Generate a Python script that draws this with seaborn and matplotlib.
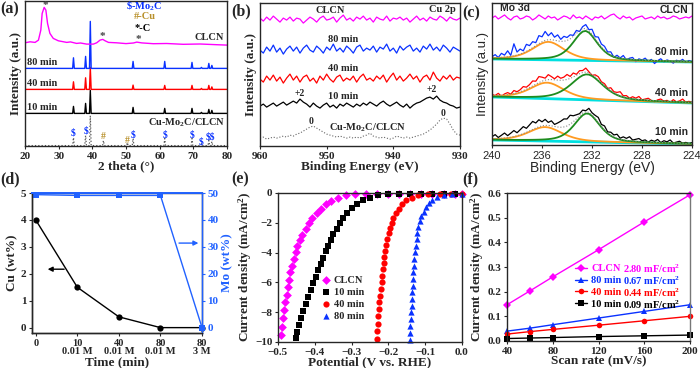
import numpy as np
import matplotlib
matplotlib.use("Agg")
import matplotlib.pyplot as plt
import seaborn as sns

sns.set_style("ticks")
plt.rcParams["font.family"] = ["Liberation Serif", "DejaVu Serif"]
plt.rcParams["font.weight"] = "bold"
plt.rcParams["axes.labelweight"] = "bold"
plt.rcParams["axes.linewidth"] = 1.0
plt.rcParams["mathtext.fontset"] = "custom"
plt.rcParams["mathtext.rm"] = "Liberation Serif:bold"
plt.rcParams["mathtext.default"] = "rm"
plt.rcParams["xtick.direction"] = "out"
plt.rcParams["ytick.direction"] = "out"
plt.rcParams["xtick.major.size"] = 2.5
plt.rcParams["ytick.major.size"] = 2.5
plt.rcParams["xtick.major.pad"] = 1.5
plt.rcParams["ytick.major.pad"] = 1.5

MAG, BLUE, RED, BLK = "#ff00ff", "#0a32ff", "#ff0000", "black"
ORANGE, GREEN, CYAN, CUC, DBLUE = "#ff9b21", "#1e8c1e", "#00e0e0", "#b8902a", "#2162ff"

# ---------------- (a) XRD ----------------
mo2c_pos = [34.4, 38.0, 39.4, 52.1, 61.5, 69.6, 72.4, 74.6, 75.5]
cu_pos = [43.3, 50.4]
h_80 = [10.6, 12, 47, 7, 7, 6, 1, 5, 3]
h_40 = [7.6, 11.6, 22, 4.3, 4, 4, 1, 4, 2.5]
h_10 = [7, 10, 23, 6, 5, 5, 1, 4, 3]
h_cumo = [8, 10, 30, 7, 7, 7, 2, 5, 4]
h_cumo_cu = [5, 3]
base_80, base_40, base_10, base_cumo = 77.7, 56.7, 32.7, 0.5
clcn_x = [20, 21.5, 23, 24, 24.7, 25.1, 25.7, 26.2, 26.7, 27.4, 28.4, 29.9, 31, 32.4, 33.5,
          35.3, 36.5, 38.3, 40.3, 41.3, 42.3, 43.1, 43.8, 44.8, 47.2, 50, 52.2, 53.2,
          54.7, 58.1, 62.1, 67, 72, 76.9, 80]
clcn_y = [103.3, 104.3, 103.7, 106, 116, 132.7, 138.7, 136, 122.7, 112.7, 107.7, 105.3, 104.6, 103.7, 104.2,
          102.7, 103.1, 102, 102, 103.3, 106, 106.7, 105.3, 103.7, 103.3, 102.5, 103.1, 104,
          103.2, 102.4, 102.6, 101.8, 102.1, 101.4, 101]
# peak-marker labels above the Cu-Mo2C/CLCN pattern
mo2c_mark_x = [34.4, 38.0, 52.1, 61.5, 69.6, 72.4, 75.05]
mo2c_mark_y = [13.3, 15, 11, 11, 11, 4.3, 9.5]
mo2c_mark_t = ["$", "$", "$", "$", "$", "$", r"\$\$"]
cu_mark_y = [9.3, 5.3]

# ---------------- (b) Cu 2p ----------------
b_clcn = [128, 125, 129, 126, 130, 127, 124, 128, 126, 129, 125, 128, 127, 123, 126, 129, 127, 124, 128, 130,
          126, 127, 129, 124, 128, 131, 126, 128, 125, 129, 127, 130, 126, 128, 124, 129, 127, 126, 130, 125,
          128, 127, 129, 126, 128, 124, 127, 130, 126, 128, 125, 129, 127, 126, 130, 128, 125, 129, 127, 126, 128]
b_80 = [96, 93, 99, 95, 101, 94, 98, 92, 97, 100, 95, 99, 93, 98, 101, 96, 94, 100, 97, 93,
        99, 96, 102, 95, 98, 94, 100, 97, 93, 99, 101, 95, 98, 96, 100, 94, 99, 97, 102, 95,
        98, 93, 100, 96, 99, 101, 95, 98, 94, 100, 97, 102, 96, 99, 95, 101, 98, 94, 99, 97, 95]
b_40 = [67, 64, 70, 66, 71, 65, 69, 63, 68, 72, 66, 70, 64, 69, 71, 65, 68, 63, 70, 66,
        72, 67, 64, 69, 71, 65, 68, 66, 70, 64, 69, 72, 66, 68, 65, 70, 67, 71, 64, 69,
        73, 66, 70, 65, 68, 72, 67, 70, 64, 69, 71, 66, 74, 68, 65, 70, 67, 71, 66, 69, 68]
b_10 = [40, 42, 39, 41, 43, 40, 42, 44, 41, 43, 45, 43, 47, 44, 42, 39, 43, 40, 38, 41,
        43, 39, 41, 38, 42, 40, 43, 41, 39, 42, 40, 43, 41, 44, 42, 40, 43, 45, 42, 40,
        42, 44, 41, 39, 42, 38, 41, 43, 44, 46, 48, 49, 47, 50, 46, 44, 43, 41, 40, 38, 39]
b_cumo = [8, 9, 7, 8, 9, 8, 9, 10, 9, 11, 10, 12, 13, 15, 17, 19, 20, 18, 16, 14,
          12, 11, 10, 9, 10, 9, 8, 9, 8, 9, 8, 10, 11, 13, 10, 9, 8, 9, 8, 7,
          8, 10, 9, 8, 9, 8, 9, 10, 11, 12, 14, 16, 19, 22, 26, 28, 27, 22, 16, 12, 11]

# ---------------- (c) Mo 3d ----------------
c_clcn = [0, 2, -1, 1, 3, 0, -2, 1, 2, -1, 0, 2, 1, -2, 0, 3, 1, -1, 2, 0, 1, -2, 0, 2, 1, -1, 3, 0, 1, -1,
          2, 0, -2, 1, 0, 2, -1, 1, 3, 4, 1, -1, 2, 0, 1, -2, 0, 1, 2, -1, 0, 1, -1, 2, 0, 1, -1, 0, 2, 1,
          -1, 0, 1, 0, 2]
c_groups = {
    "80 min": dict(color=BLUE, base=(86, 83), orange=(235.5, 18, 3.0), green=(232.55, 29.5, 2.3),
                   noise=[1, 3, 0, 4, 2, 6, 1, 12, 3, 5, 2, 7, 4, 6, 3, 8, 5, 9, 4, 7, 3, 6, 2, 5, 3,
                          4, 1, 3, -1, 2, 4, 1, 5, 2, 6, 3, 4, 1, 3, -1, 2, 0, 3, -1, 1, 2, -2, 1, 0, 2,
                          -1, 1, -3, 0, 2, -1, 1, 0, -2, 1, 0, 2, -1, 1, 0]),
    "40 min": dict(color=RED, base=(48, 42), orange=(235.6, 16, 3.2), green=(232.4, 25.5, 3.0),
                   noise=[1, 0, 2, -1, 1, 2, 0, 3, 1, 2, 4, 2, 3, 5, 3, 6, 4, 2, 5, 3, 1, 4, 2, 3, 5,
                          2, 4, 1, 3, 2, 4, 1, -1, 2, 3, 1, 2, 0, 3, 1, 2, 4, 1, 2, 0, 2, 1, 3, 0, 1,
                          2, 0, -1, 1, 2, 0, 1, -1, 2, 0, 1, 3, 0, 1, 0]),
    "10 min": dict(color=BLK, base=(5, 1), orange=(235.75, 14, 3.2), green=(232.4, 28.5, 2.4),
                   noise=[2, 4, 1, 3, 5, 2, 4, 6, 3, 5, 7, 4, 6, 8, 5, 7, 4, 6, 3, 5, 2, 4, 6, 8, 7,
                          9, 6, 4, 2, 3, 1, 4, 2, 3, 5, 2, 4, 1, 3, 2, 4, 1, 3, 2, 4, 1, 2, 3, 1, 2,
                          0, 2, 1, 3, 0, 2, 1, 3, 0, 1, 2, 0, 1, 0, 1]),
}

# ---------------- (d) composition ----------------
d_labels = ["0", "10\n0.01 M", "40\n0.01 M", "80\n0.01 M", "80\n3 M"]
cu_wt = [4.0, 1.5, 0.4, 0.0, 0.0]
mo_wt = [49.4, 49.1, 49.1, 49.1, 0.0]

# ---------------- (e) LSV ----------------
e_clcn_x = [-0.492, -0.489, -0.486, -0.483, -0.480, -0.475, -0.473, -0.469, -0.466, -0.462, -0.457, -0.452,
            -0.448, -0.441, -0.434, -0.425, -0.416, -0.407, -0.395, -0.384, -0.370, -0.356, -0.338, -0.315,
            -0.290, -0.26, -0.23, -0.20, -0.17, -0.14, -0.11, -0.08, -0.05, -0.02, 0.0]
e_clcn_y = [-9.53, -8.97, -8.40, -7.84, -7.35, -6.85, -6.34, -5.82, -5.33, -4.88, -4.43, -3.98,
            -3.57, -3.19, -2.81, -2.40, -2.02, -1.69, -1.33, -1.06, -0.76, -0.54, -0.31, -0.16,
            -0.10, -0.09, -0.09, -0.09, -0.09, -0.09, -0.09, -0.09, -0.09, -0.09, -0.09]
e_10_x = [-0.450, -0.447, -0.443, -0.437, -0.431, -0.425, -0.419, -0.411, -0.404, -0.397, -0.390, -0.384,
          -0.377, -0.370, -0.364, -0.356, -0.349, -0.340, -0.331, -0.322, -0.311, -0.299, -0.285, -0.270,
          -0.251, -0.229, -0.201, -0.17, -0.14, -0.11, -0.08, -0.05, -0.02]
e_10_y = [-9.71, -9.30, -8.88, -8.36, -7.91, -7.46, -7.01, -6.49, -6.04, -5.62, -5.17, -4.76,
          -4.36, -3.91, -3.53, -3.15, -2.74, -2.40, -2.02, -1.66, -1.33, -1.01, -0.72, -0.49,
          -0.31, -0.16, -0.09, -0.08, -0.08, -0.08, -0.08, -0.08, -0.08]
e_40_x = [-0.231, -0.230, -0.228, -0.227, -0.226, -0.224, -0.222, -0.220, -0.218, -0.217, -0.215, -0.213,
          -0.211, -0.208, -0.206, -0.203, -0.199, -0.196, -0.191, -0.186, -0.179, -0.172, -0.163, -0.151,
          -0.137, -0.119, -0.091, -0.06, -0.03, 0.0]
e_40_y = [-9.82, -9.26, -8.76, -8.25, -7.80, -7.35, -6.90, -6.45, -6.00, -5.55, -5.10, -4.70,
          -4.27, -3.87, -3.46, -3.08, -2.70, -2.34, -2.00, -1.66, -1.35, -1.06, -0.76, -0.49,
          -0.31, -0.16, -0.09, -0.08, -0.08, -0.08]
e_80_x = [-0.142, -0.141, -0.140, -0.139, -0.138, -0.137, -0.136, -0.135, -0.134, -0.133, -0.132, -0.131,
          -0.129, -0.127, -0.125, -0.123, -0.121, -0.118, -0.114, -0.110, -0.104, -0.098, -0.090, -0.080,
          -0.067, -0.050, -0.027, 0.0]
e_80_y = [-9.89, -9.37, -8.92, -8.47, -8.02, -7.57, -7.12, -6.67, -6.22, -5.78, -5.33, -4.88,
          -4.43, -3.98, -3.53, -3.08, -2.67, -2.29, -1.91, -1.57, -1.26, -0.94, -0.67, -0.45,
          -0.27, -0.16, -0.09, -0.09]

# ---------------- (f) Cdl ----------------
scan_rate = [40, 60, 80, 120, 160, 200]
f_clcn = [0.147, 0.203, 0.260, 0.370, 0.483, 0.593]
f_80 = [0.040, 0.052, 0.066, 0.093, 0.120, 0.147]
f_40 = [0.028, 0.038, 0.047, 0.064, 0.082, 0.100]
f_10 = [0.010, 0.012, 0.014, 0.018, 0.021, 0.024]
cdl_text = ["2.80 mF/cm$^2$", "0.67 mF/cm$^2$", "0.44 mF/cm$^2$", "0.09 mF/cm$^2$"]

fig = plt.figure(figsize=(7, 3.68), dpi=100)
ax_a = fig.add_axes([0.0357, 0.603, 0.2886, 0.394])
ax_b = fig.add_axes([0.3714, 0.603, 0.2857, 0.3886])
ax_c = fig.add_axes([0.7029, 0.606, 0.2857, 0.3859])
ax_d = fig.add_axes([0.0457, 0.0951, 0.2429, 0.3804])
ax_e = fig.add_axes([0.397, 0.0707, 0.2629, 0.405])
ax_f = fig.add_axes([0.7243, 0.0734, 0.2614, 0.402])

TK = 8
LB = 9.5


def peak_trace(base, pos, heights, w=0.25):
    xs, ys = [20], [base]
    for p, hh in sorted(zip(pos, heights)):
        xs += [p - w, p, p + w]
        ys += [base, base + hh, base]
    xs.append(80)
    ys.append(base)
    return xs, ys


# (a)
for base, hs, col in [(base_10, h_10, BLK), (base_40, h_40, RED), (base_80, h_80, BLUE)]:
    xs, ys = peak_trace(base, mo2c_pos, hs)
    sns.lineplot(x=xs, y=ys, ax=ax_a, color=col, lw=1, estimator=None, sort=False)
xs, ys = peak_trace(base_cumo, mo2c_pos + cu_pos, h_cumo + h_cumo_cu)
sns.lineplot(x=xs, y=ys, ax=ax_a, color="#555555", lw=0.9, ls=":", estimator=None, sort=False)
sns.lineplot(x=clcn_x, y=clcn_y, ax=ax_a, color=MAG, lw=1, estimator=None, sort=False)
ax_a.set_xlim(20, 80)
ax_a.set_ylim(0, 145)
ax_a.set_yticks([])
ax_a.set_xticks(range(20, 81, 10))
ax_a.tick_params(labelsize=TK)
ax_a.set_xlabel("2 theta (°)", fontsize=LB, labelpad=0)
ax_a.set_ylabel("Intensity (a.u.)", fontsize=LB, labelpad=2)
ax_a.text(50, 139.5, r"\$-Mo$_2$C", color=BLUE, fontsize=7.5, va="center")
ax_a.text(52.2, 129.5, "#-Cu", color=CUC, fontsize=7.5, va="center")
ax_a.text(52.5, 118, "*-C", color=BLK, fontsize=7.5, va="center")
for x, y in [(26, 141), (43.1, 110), (53.6, 106.5)]:
    ax_a.text(x, y, "*", color="#444444", fontsize=8, ha="center", va="center")
ax_a.text(79.2, 104, "CLCN", fontsize=7.5, ha="right", va="bottom")
ax_a.text(20.6, base_80 + 1, "80 min", fontsize=7.5, ha="left", va="bottom")
ax_a.text(20.6, base_40 + 1, "40 min", fontsize=7.5, ha="left", va="bottom")
ax_a.text(20.6, base_10 + 1, "10 min", fontsize=7.5, ha="left", va="bottom")
ax_a.text(79.4, 23.5, "Cu-Mo$_2$C/CLCN", fontsize=7.5, ha="right", va="center")
for x, y, t in zip(mo2c_mark_x, mo2c_mark_y, mo2c_mark_t):
    ax_a.text(x, y, t, color=BLUE, fontsize=7, ha="center", va="center")
for x, y in zip(cu_pos, cu_mark_y):
    ax_a.text(x, y, "#", color=CUC, fontsize=7, ha="center", va="center")

# (b)
for vals, col, lw, ls in [(b_clcn, MAG, 0.9, "-"), (b_80, BLUE, 0.9, "-"), (b_40, RED, 0.9, "-"),
                          (b_10, BLK, 0.9, "-"), (b_cumo, "#666666", 0.8, ":")]:
    sns.lineplot(x=np.linspace(960, 930, len(vals)), y=vals, ax=ax_b, color=col, lw=lw, ls=ls,
                 estimator=None, sort=False)
ax_b.set_xlim(960, 930)
ax_b.set_ylim(0, 143)
ax_b.set_yticks([])
ax_b.set_xticks([960, 950, 940, 930])
ax_b.tick_params(labelsize=TK)
ax_b.set_xlabel("Binding Energy (eV)", fontsize=LB, labelpad=0)
ax_b.set_ylabel("Intensity (a.u.)", fontsize=LB, labelpad=2)
ax_b.text(949.5, 136, "CLCN", fontsize=7.5, ha="center", va="center")
ax_b.text(930.6, 137, "Cu 2p", fontsize=7.5, ha="right", va="center")
ax_b.text(947.5, 107, "80 min", fontsize=7.5, ha="center", va="center")
ax_b.text(947.5, 78, "40 min", fontsize=7.5, ha="center", va="center")
ax_b.text(947.5, 50, "10 min", fontsize=7.5, ha="center", va="center")
ax_b.text(954, 53, "+2", fontsize=7, ha="center", va="center")
ax_b.text(934.2, 57, "+2", fontsize=7, ha="center", va="center")
ax_b.text(952.3, 24.5, "0", fontsize=7, ha="center", va="center")
ax_b.text(932.5, 33, "0", fontsize=7, ha="center", va="center")
ax_b.text(943.8, 18.5, "Cu-Mo$_2$C/CLCN", fontsize=7.5, ha="center", va="center")


# (c)
def pv(E, c, h, fw):
    g = np.exp(-4 * np.log(2) * ((E - c) / fw) ** 2)
    lo = 1 / (1 + 4 * ((E - c) / fw) ** 2)
    return h * (0.5 * g + 0.5 * lo)


sns.lineplot(x=np.linspace(240, 224, len(c_clcn)), y=np.array(c_clcn) + 127, ax=ax_c, color=MAG, lw=0.9,
             estimator=None, sort=False)
for name, g in c_groups.items():
    E = np.linspace(240, 224, len(g["noise"]))
    bl = np.interp(E, [224, 240], [g["base"][1], g["base"][0]])
    orange = bl + pv(E, *g["orange"])
    green = bl + pv(E, *g["green"])
    env = bl + pv(E, *g["orange"]) + pv(E, *g["green"])
    sns.lineplot(x=[240, 224], y=list(g["base"]), ax=ax_c, color=CYAN, lw=2, estimator=None, sort=False)
    sns.lineplot(x=E, y=env + np.array(g["noise"]), ax=ax_c, color=g["color"], lw=0.9, estimator=None, sort=False)
    sns.lineplot(x=E, y=orange, ax=ax_c, color=ORANGE, lw=1.3, estimator=None, sort=False)
    sns.lineplot(x=E, y=green, ax=ax_c, color=GREEN, lw=1.3, estimator=None, sort=False)
    sns.lineplot(x=E, y=env, ax=ax_c, color="#888888", lw=0.8, ls=":", estimator=None, sort=False)
ax_c.set_xlim(240, 224)
ax_c.set_ylim(0, 142)
ax_c.set_yticks([])
ax_c.set_xticks([240, 236, 232, 228, 224])
ax_c.tick_params(labelsize=8)
plt.setp(ax_c.get_xticklabels(), family="Liberation Sans", weight="normal")
ax_c.set_xlabel("Binding Energy (eV)", fontsize=10, labelpad=0, family="Liberation Sans", weight="normal")
ax_c.set_ylabel("Intensity (a.u.)", fontsize=9.5, labelpad=2, family="Liberation Sans", weight="normal")
sans = dict(family="Liberation Sans", fontsize=7.5, weight="bold", va="center")
ax_c.text(239.4, 137, "Mo 3d", ha="left", **sans)
ax_c.text(224.3, 135, "CLCN", ha="right", **sans)
ax_c.text(224.3, 93, "80 min", ha="right", **sans)
ax_c.text(224.3, 52, "40 min", ha="right", **sans)
ax_c.text(224.3, 13, "10 min", ha="right", **sans)

# (d)
xd = list(range(len(d_labels)))
sns.lineplot(x=xd, y=cu_wt, ax=ax_d, color=BLK, lw=1, marker="o", markersize=4.5, markeredgewidth=0,
             estimator=None, sort=False, clip_on=False)
ax_d.set_xlim(-0.09, 4.0)
ax_d.set_ylim(-0.2, 5)
ax_d.set_yticks(range(0, 6))
ax_d.set_xticks(xd)
ax_d.set_xticklabels(d_labels, fontsize=7.5, linespacing=0.95)
ax_d.tick_params(axis="y", labelsize=TK)
ax_d.set_xlabel("Time (min)", fontsize=LB, labelpad=0)
ax_d.set_ylabel("Cu (wt%)", fontsize=LB, labelpad=2)
ax_d2 = ax_d.twinx()
sns.lineplot(x=xd, y=mo_wt, ax=ax_d2, color=DBLUE, lw=1, marker="s", markersize=4, markeredgewidth=0,
             estimator=None, sort=False, clip_on=False)
ax_d2.set_ylim(-2, 50)
ax_d2.set_yticks(range(0, 51, 10))
ax_d2.tick_params(axis="y", labelsize=TK, colors=DBLUE)
ax_d2.set_ylabel("Mo (wt%)", fontsize=LB, color=DBLUE, labelpad=2)
for s in ["right", "top"]:
    ax_d2.spines[s].set_color(DBLUE)
ax_d2.spines["top"].set_linewidth(1.4)
ax_d.annotate("", xy=(0.22, 2.17), xytext=(0.75, 2.17),
              arrowprops=dict(arrowstyle="-|>", color=BLK, lw=1, mutation_scale=7))
ax_d2.annotate("", xy=(3.98, 31.4), xytext=(3.38, 31.4),
               arrowprops=dict(arrowstyle="-|>", color=DBLUE, lw=1, mutation_scale=7))

# (e)
for xs, ys, col, mk, lab in [(e_clcn_x, e_clcn_y, MAG, "D", "CLCN"), (e_10_x, e_10_y, BLK, "s", "10 min"),
                             (e_40_x, e_40_y, RED, "o", "40 min"), (e_80_x, e_80_y, BLUE, "^", "80 min")]:
    sns.scatterplot(x=xs, y=ys, ax=ax_e, color=col, marker=mk, s=20, linewidth=0, label=lab, clip_on=False)
ax_e.set_xlim(-0.5, 0.0)
ax_e.set_ylim(-10, 0)
ax_e.set_xticks(np.round(np.arange(-0.5, 0.01, 0.1), 1))
ax_e.set_yticks(range(-10, 1, 2))
ax_e.tick_params(labelsize=TK)
ax_e.set_xlabel("Potential (V vs. RHE)", fontsize=LB, labelpad=0)
ax_e.set_ylabel("Current density (mA/cm$^2$)", fontsize=LB, labelpad=1)
ax_e.legend(loc="upper left", bbox_to_anchor=(0.235, 0.445), frameon=False, fontsize=7.5,
            handlelength=1, handletextpad=0.2, labelspacing=0.25, borderpad=0, borderaxespad=0)

# (f)
for ys, col, mk, lab in [(f_clcn, MAG, "D", "CLCN"), (f_80, BLUE, "^", "80 min"),
                         (f_40, RED, "o", "40 min"), (f_10, BLK, "s", "10 min")]:
    sns.lineplot(x=scan_rate, y=ys, ax=ax_f, color=col, lw=1, marker=mk, markersize=4, markeredgewidth=0,
                 estimator=None, sort=False, label=lab, clip_on=False)
ax_f.set_xlim(40, 200)
ax_f.set_ylim(0, 0.6)
ax_f.set_xticks(range(40, 201, 40))
ax_f.set_yticks(np.round(np.arange(0, 0.61, 0.1), 1))
ax_f.tick_params(labelsize=TK)
ax_f.spines["right"].set_color("#777777")
ax_f.set_xlabel("Scan rate (mV/s)", fontsize=LB, labelpad=0)
ax_f.set_ylabel("Current density (mA/cm$^2$)", fontsize=LB, labelpad=1)
leg_f = ax_f.legend(loc="upper left", bbox_to_anchor=(0.37, 0.52), frameon=False, fontsize=7.5,
                    handlelength=1.2, handletextpad=0.4, labelspacing=0.25, borderpad=0, borderaxespad=0,
                    labelcolor="linecolor")

for lab, x, y in [("(a)", 0.0, 0.997), ("(b)", 0.331, 0.99), ("(c)", 0.661, 0.985),
                  ("(d)", 0.0, 0.535), ("(e)", 0.331, 0.535), ("(f)", 0.66, 0.535)]:
    fig.text(x, y, lab, fontsize=11.5, weight="bold", ha="left", va="top")

fig.canvas.draw()
inv = ax_f.transAxes.inverted()
for t, val in zip(leg_f.get_texts(), cdl_text):
    bb = t.get_window_extent()
    y = inv.transform((0, (bb.y0 + bb.y1) / 2))[1]
    ax_f.text(0.634, y, val, transform=ax_f.transAxes, va="center", ha="left", fontsize=7.5,
              color=t.get_color())

fig.savefig("out.png", dpi=100)
